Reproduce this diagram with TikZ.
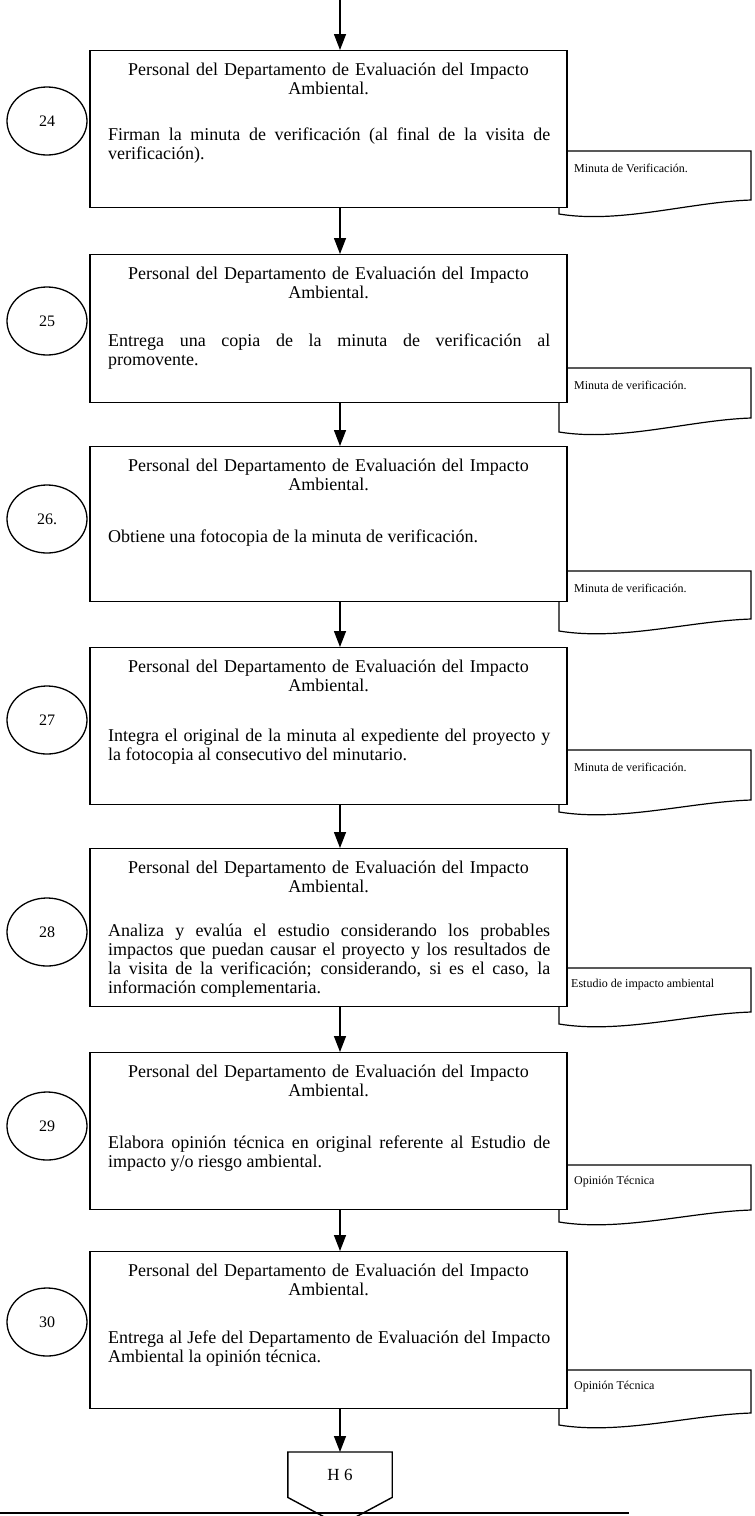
\documentclass[tikz,border=0pt]{standalone}
\usepackage{fontspec}
\setmainfont{Liberation Serif}
\usetikzlibrary{arrows.meta,shapes.geometric}
\hyphenpenalty=10000
\exhyphenpenalty=10000
\newcommand\bodyfont{\fontsize{18}{19}\selectfont}
\newcommand\docfont{\fontsize{12}{14}\selectfont}
\begin{document}
\begin{tikzpicture}[x=1pt,y=-1pt,
  procbox/.style={draw, line width=1.4pt, fill=white, minimum width=477pt, inner sep=0pt, anchor=north},
  headtxt/.style={text width=442pt, align=center, inner sep=0pt, anchor=north, font=\bodyfont},
  bodytxt/.style={text width=442pt, align=justify, inner sep=0pt, anchor=north west, font=\bodyfont},
  numcirc/.style={draw, ellipse, line width=1.3pt, minimum width=80pt, minimum height=68pt, inner sep=0pt, font=\fontsize{16}{18}\selectfont},
  docshape/.style={draw, line width=1.2pt, fill=white},
  doctxt/.style={anchor=west, inner sep=0pt, font=\docfont},
  flow/.style={line width=1.4pt, -{Triangle[length=16pt,width=12pt]}},
]
\useasboundingbox (0,0) rectangle (755,1516);

% documents (drawn first, boxes cover their left part)
\draw[docshape] (559,151) -- (751,151) -- (751,200) .. controls (690,202) and (620,224) .. (559,214) -- cycle;
\node[doctxt] (d24) at (574,168) {Minuta de Verificación.};
\draw[docshape] (559,368) -- (751,368) -- (751,418) .. controls (690,420) and (620,442) .. (559,432) -- cycle;
\node[doctxt] (d25) at (574,385) {Minuta de verificación.};
\draw[docshape] (559,571) -- (751,571) -- (751,619) .. controls (690,621) and (620,641) .. (559,631) -- cycle;
\node[doctxt] (d26) at (574,588) {Minuta de verificación.};
\draw[docshape] (559,750) -- (751,750) -- (751,800) .. controls (690,802) and (620,822) .. (559,812) -- cycle;
\node[doctxt] (d27) at (574,767) {Minuta de verificación.};
\draw[docshape] (559,968) -- (751,968) -- (751,1012) .. controls (690,1014) and (620,1034) .. (559,1024) -- cycle;
\node[doctxt] (d28) at (571,985) {Estudio de impacto ambiental};
\draw[docshape] (559,1165) -- (751,1165) -- (751,1210) .. controls (690,1212) and (620,1232) .. (559,1222) -- cycle;
\node[doctxt] (d29) at (574,1182) {Opinión Técnica};
\draw[docshape] (559,1370) -- (751,1370) -- (751,1413) .. controls (690,1415) and (620,1435) .. (559,1425) -- cycle;
\node[doctxt] (d30) at (574,1387) {Opinión Técnica};

% process boxes
\node[procbox, minimum height=157pt] (b24) at (328.5,50) {};
\node[procbox, minimum height=148pt] (b25) at (328.5,254) {};
\node[procbox, minimum height=155pt] (b26) at (328.5,446) {};
\node[procbox, minimum height=157pt] (b27) at (328.5,647) {};
\node[procbox, minimum height=158pt] (b28) at (328.5,848) {};
\node[procbox, minimum height=157pt] (b29) at (328.5,1052) {};
\node[procbox, minimum height=157pt] (b30) at (328.5,1251) {};

% headers
\node[headtxt] (h24) at (328.5,63) {Personal del Departamento de Evaluación del Impacto\\Ambiental.};
\node[headtxt] (h25) at (328.5,267) {Personal del Departamento de Evaluación del Impacto\\Ambiental.};
\node[headtxt] (h26) at (328.5,459) {Personal del Departamento de Evaluación del Impacto\\Ambiental.};
\node[headtxt] (h27) at (328.5,660) {Personal del Departamento de Evaluación del Impacto\\Ambiental.};
\node[headtxt] (h28) at (328.5,861) {Personal del Departamento de Evaluación del Impacto\\Ambiental.};
\node[headtxt] (h29) at (328.5,1065) {Personal del Departamento de Evaluación del Impacto\\Ambiental.};
\node[headtxt] (h30) at (328.5,1264) {Personal del Departamento de Evaluación del Impacto\\Ambiental.};

% bodies
\node[bodytxt] (t24) at (108,128) {Firman la minuta de verificación (al final de la visita de\linebreak verificación).};
\node[bodytxt] (t25) at (108,334) {Entrega una copia de la minuta de verificación al\linebreak promovente.};
\node[bodytxt] (t26) at (108,530) {Obtiene una fotocopia de la minuta de verificación.};
\node[bodytxt] (t27) at (108,729) {Integra el original de la minuta al expediente del proyecto y\linebreak la fotocopia al consecutivo del minutario.};
\node[bodytxt] (t28) at (108,924) {Analiza y evalúa el estudio considerando los probables\linebreak impactos que puedan causar el proyecto y los resultados de\linebreak la visita de la verificación; considerando, si es el caso, la\linebreak información complementaria.};
\node[bodytxt] (t29) at (108,1136) {Elabora opinión técnica en original referente al Estudio de\linebreak impacto y/o riesgo ambiental.};
\node[bodytxt] (t30) at (108,1331) {Entrega al Jefe del Departamento de Evaluación del Impacto\linebreak Ambiental la opinión técnica.};

% step numbers
\node[numcirc] (c24) at (47,121) {24};
\node[numcirc] (c25) at (47,321) {25};
\node[numcirc] (c26) at (47,519) {26.};
\node[numcirc] (c27) at (47,720) {27};
\node[numcirc] (c28) at (47,932) {28};
\node[numcirc] (c29) at (47,1126) {29};
\node[numcirc] (c30) at (47,1322) {30};

% off-page connector
\node[inner sep=0pt, minimum width=104pt, minimum height=45pt, anchor=north, font=\fontsize{17}{19}\selectfont] (h6) at (340,1452) {H 6};
\draw[line width=1.4pt] (h6.north west) -- (h6.north east) -- (h6.south east) -- ([yshift=-28pt]h6.south) -- (h6.south west) -- cycle;

% flow arrows
\coordinate (start) at (340,0);
\draw[flow] (start) -- (start |- b24.north);
\draw[flow] ([xshift=11.5pt]b24.south) -- ([xshift=11.5pt]b25.north);
\draw[flow] ([xshift=11.5pt]b25.south) -- ([xshift=11.5pt]b26.north);
\draw[flow] ([xshift=11.5pt]b26.south) -- ([xshift=11.5pt]b27.north);
\draw[flow] ([xshift=11.5pt]b27.south) -- ([xshift=11.5pt]b28.north);
\draw[flow] ([xshift=11.5pt]b28.south) -- ([xshift=11.5pt]b29.north);
\draw[flow] ([xshift=11.5pt]b29.south) -- ([xshift=11.5pt]b30.north);
\draw[flow] (h6.north |- b30.south) -- (h6.north);

% bottom rule
\coordinate (ruleL) at (0,1513);
\coordinate (ruleR) at (629,1513);
\draw[line width=1.2pt] (ruleL) -- (ruleR);
\end{tikzpicture}
\end{document}
